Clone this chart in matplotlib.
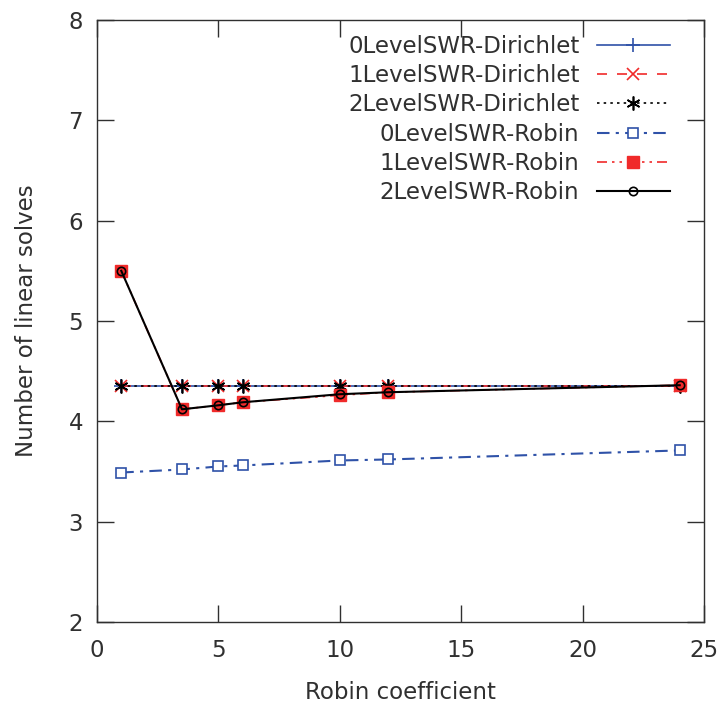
import matplotlib
matplotlib.use("Agg")
import matplotlib.pyplot as plt

x = [1, 3.5, 5, 6, 10, 12, 24]
dirichlet_0 = [4.35, 4.35, 4.35, 4.35, 4.35, 4.35, 4.35]
dirichlet_1 = [4.35, 4.35, 4.35, 4.35, 4.35, 4.35, 4.35]
dirichlet_2 = [4.35, 4.35, 4.35, 4.35, 4.35, 4.35, 4.35]
robin_0 = [3.49, 3.52, 3.55, 3.56, 3.61, 3.62, 3.71]
robin_1 = [5.50, 4.12, 4.16, 4.19, 4.26, 4.29, 4.36]
robin_2 = [5.50, 4.12, 4.16, 4.19, 4.27, 4.29, 4.36]
labels = ["0LevelSWR-Dirichlet", "1LevelSWR-Dirichlet", "2LevelSWR-Dirichlet",
          "0LevelSWR-Robin", "1LevelSWR-Robin", "2LevelSWR-Robin"]

blue = "#2f52a8"
red = "#f02a2a"
black = "#000000"
txt = "#303030"

fs = 16.5
plt.rcParams['font.family'] = ['DejaVu Sans']
fig = plt.figure(figsize=(7.2, 7.08), dpi=100)
ax = fig.add_axes([97/720, 1 - 622/708, 607/720, 602/708])

ax.plot(x, dirichlet_0, color=blue, lw=1.2, ls='-', marker='+', ms=10, mew=1.2, label=labels[0])
ax.plot(x, dirichlet_1, color=red, lw=1.2, ls=(0, (6, 6)), marker='x', ms=8, mew=1.2, label=labels[1])
ax.plot(x, dirichlet_2, color=black, lw=1.2, ls=(0, (1.5, 2.5)), marker=(6, 2, 0), ms=10, mew=1.2, label=labels[2])
ax.plot(x, robin_0, color=blue, lw=1.5, ls=(0, (6, 3, 1.5, 3)), marker='s', ms=7, mfc='white', mec=blue, mew=1.2, label=labels[3])
ax.plot(x, robin_1, color=red, lw=1.2, ls=(0, (6, 3, 1.5, 3, 1.5, 3)), marker='s', ms=8, mfc=red, mec=red, label=labels[4])
ax.plot(x, robin_2, color=black, lw=1.5, ls='-', marker='o', ms=6, mfc='none', mec=black, mew=1.2, label=labels[5])

ax.set_xlim(0, 25)
ax.set_ylim(2, 8)
ax.set_xticks([0, 5, 10, 15, 20, 25])
ax.set_yticks([2, 3, 4, 5, 6, 7, 8])
ax.tick_params(direction='in', length=12, width=1, top=True, right=True, labelsize=fs, colors=txt)
ax.tick_params(axis='x', pad=12)
ax.tick_params(axis='y', pad=10)
for s in ax.spines.values():
    s.set_linewidth(1.0)
    s.set_color(txt)
ax.set_xlabel("Robin coefficient", fontsize=fs, labelpad=14, color=txt)
ax.set_ylabel("Number of linear solves", fontsize=fs, labelpad=22, color=txt)

leg = ax.legend(loc='upper right', bbox_to_anchor=((670 - 97) / 607, (622 - 35) / 602),
                frameon=False, fontsize=fs, markerfirst=False, handlelength=3.2,
                handletextpad=0.75, borderpad=0, borderaxespad=0, labelspacing=0.27)
for t in leg.get_texts():
    t.set_color(txt)

fig.savefig("out.png", dpi=100)
